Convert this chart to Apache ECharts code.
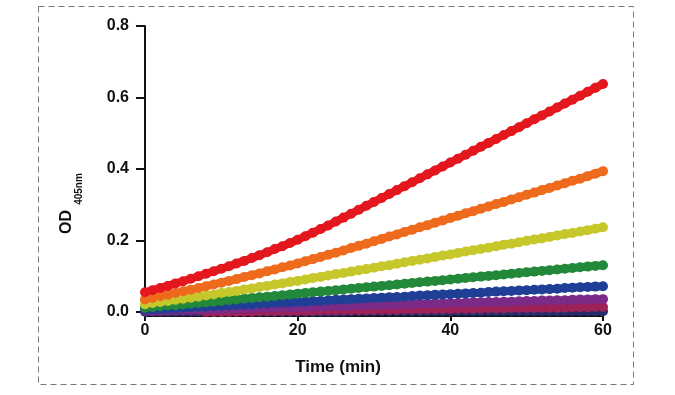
<!DOCTYPE html>
<html>
<head>
<meta charset="utf-8">
<script src="https://cdn.jsdelivr.net/npm/echarts@6/dist/echarts.min.js"></script>
<style>html,body{margin:0;padding:0;background:#fff}#c{width:675px;height:395px}</style>
</head>
<body>
<div id="c"></div>
<script>
var times = [];
for (var i = 0; i <= 60; i++) times.push(i);
var yTicks = [0, 0.2, 0.4, 0.6, 0.8];
var xTicks = [0, 20, 40, 60];

var red = [.055,.061,.067,.073,.080,.086,.093,.100,.107,.114,.121,.128,.136,.143,.151,.159,.167,.176,.184,.193,.202,.212,.222,.232,.242,.253,.264,.275,.286,.297,.308,.319,.330,.341,.352,.363,.374,.385,.396,.407,.418,.429,.440,.451,.462,.473,.484,.495,.506,.517,.528,.539,.550,.561,.572,.583,.594,.605,.616,.627,.638];
var orange = [.035,.039,.044,.048,.053,.058,.062,.067,.072,.077,.082,.087,.092,.098,.103,.108,.114,.119,.125,.130,.136,.142,.148,.154,.160,.166,.172,.179,.185,.191,.198,.204,.211,.217,.224,.230,.237,.243,.250,.256,.263,.269,.276,.282,.289,.295,.302,.308,.315,.321,.328,.334,.341,.347,.354,.360,.367,.373,.380,.387,.394];
var yellow = [.022,.025,.028,.031,.034,.037,.040,.043,.046,.049,.053,.056,.059,.063,.066,.070,.073,.077,.080,.084,.087,.091,.095,.098,.102,.106,.109,.113,.117,.120,.124,.128,.131,.135,.139,.143,.146,.150,.154,.158,.161,.165,.169,.173,.176,.180,.184,.188,.191,.195,.199,.203,.206,.210,.214,.218,.221,.225,.229,.233,.237];
var green = [.012,.014,.016,.018,.019,.021,.023,.025,.027,.029,.031,.033,.035,.037,.039,.041,.043,.045,.047,.049,.051,.053,.055,.057,.059,.061,.063,.065,.067,.069,.071,.073,.075,.077,.079,.081,.083,.085,.087,.089,.091,.093,.095,.097,.099,.101,.103,.105,.107,.109,.111,.113,.115,.117,.119,.121,.123,.125,.127,.129,.131];
var blue = [.006,.007,.008,.009,.010,.012,.013,.014,.015,.016,.017,.018,.019,.020,.021,.023,.024,.025,.026,.027,.028,.029,.030,.031,.032,.034,.035,.036,.037,.038,.039,.040,.041,.042,.043,.045,.046,.047,.048,.049,.050,.051,.052,.053,.054,.056,.057,.058,.059,.060,.061,.062,.063,.064,.065,.067,.068,.069,.070,.071,.072];
var purple = [.002,.003,.003,.004,.004,.005,.005,.006,.007,.007,.008,.008,.009,.009,.010,.011,.011,.012,.012,.013,.013,.014,.015,.015,.016,.016,.017,.017,.018,.019,.019,.020,.020,.021,.021,.022,.023,.023,.024,.024,.025,.025,.026,.027,.027,.028,.028,.029,.029,.030,.031,.031,.032,.032,.033,.033,.034,.035,.035,.036,.036];
var crimson = [-.002,-.002,-.002,-.002,-.001,-.001,-.001,-.001,0,0,0,0,.001,.001,.001,.002,.002,.002,.002,.003,.003,.003,.003,.004,.004,.004,.005,.005,.005,.005,.006,.006,.006,.006,.007,.007,.007,.008,.008,.008,.008,.009,.009,.009,.009,.010,.010,.010,.011,.011,.011,.011,.012,.012,.012,.012,.013,.013,.013,.014,.014];
var navy = [.001,.001,.001,.001,.001,.001,.001,.001,.001,.001,.001,.001,.001,.001,.001,.001,.001,.001,.001,.001,.001,.001,.001,.001,.001,.001,.001,.002,.002,.002,.002,.002,.002,.002,.002,.002,.002,.002,.002,.002,.002,.002,.002,.002,.002,.002,.002,.002,.002,.002,.002,.002,.002,.002,.002,.002,.002,.002,.002,.002,.002];

var seriesDefs = [
  ['navy', navy, '#262d6b'],
  ['crimson', crimson, '#9e2157'],
  ['purple', purple, '#7b2a88'],
  ['blue', blue, '#1f3f97'],
  ['green', green, '#23893a'],
  ['yellow', yellow, '#c6c72b'],
  ['orange', orange, '#ee6a1c'],
  ['red', red, '#e4171e']
];

function pairs(v) { return v.map(function (y, i) { return [times[i], y]; }); }

var chart = echarts.init(document.getElementById('c'), null, {renderer: 'canvas'});
var font = '"Liberation Sans", Arial, Helvetica, sans-serif';
chart.setOption({
  animation: false,
  backgroundColor: '#fff',
  grid: {left: 145, right: 72, top: 26, bottom: 83, containLabel: false},
  xAxis: {
    type: 'value', min: 0, max: 60, interval: 20, offset: 4,
    axisLine: {show: true, onZero: false, lineStyle: {color: '#111', width: 2}},
    axisTick: {show: true, length: 5, lineStyle: {color: '#111', width: 2}},
    axisLabel: {color: '#111', fontSize: 16, fontWeight: 'bold', fontFamily: font, margin: 7,
      formatter: function (v) { return xTicks.indexOf(v) >= 0 ? String(v) : ''; }},
    splitLine: {show: false}
  },
  yAxis: {
    type: 'value', min: 0, max: 0.8, interval: 0.2,
    axisLine: {show: true, onZero: false, lineStyle: {color: '#111', width: 2}},
    axisTick: {show: true, length: 9, lineStyle: {color: '#111', width: 2}},
    axisLabel: {color: '#111', fontSize: 16, fontWeight: 'bold', fontFamily: font, margin: 16,
      formatter: function (v) { return yTicks.indexOf(+v.toFixed(1)) >= 0 ? v.toFixed(1) : ''; }},
    splitLine: {show: false}
  },
  graphic: [
    {type: 'rect', shape: {x: 38.5, y: 6.5, width: 595, height: 378}, z: -1,
      style: {fill: 'none', stroke: '#777', lineWidth: 1, lineDash: [6, 4]}},
    {type: 'text', x: 338, y: 367, style: {text: 'Time (min)', font: 'bold 17px ' + font, fill: '#111', align: 'center', verticalAlign: 'middle'}},
    {type: 'text', x: 67, y: 222, rotation: Math.PI / 2, style: {text: 'OD', font: 'bold 16px ' + font, fill: '#111', align: 'center', verticalAlign: 'middle'}},
    {type: 'text', x: 79, y: 189, rotation: Math.PI / 2, style: {text: '405nm', font: 'bold 10px ' + font, fill: '#111', align: 'center', verticalAlign: 'middle'}}
  ],
  series: seriesDefs.map(function (d) {
    return {
      name: d[0], type: 'line', data: pairs(d[1]),
      symbol: 'circle', symbolSize: 10, showSymbol: true,
      lineStyle: {color: d[2], width: 8},
      itemStyle: {color: d[2]},
      z: 3
    };
  })
});
</script>
</body>
</html>
